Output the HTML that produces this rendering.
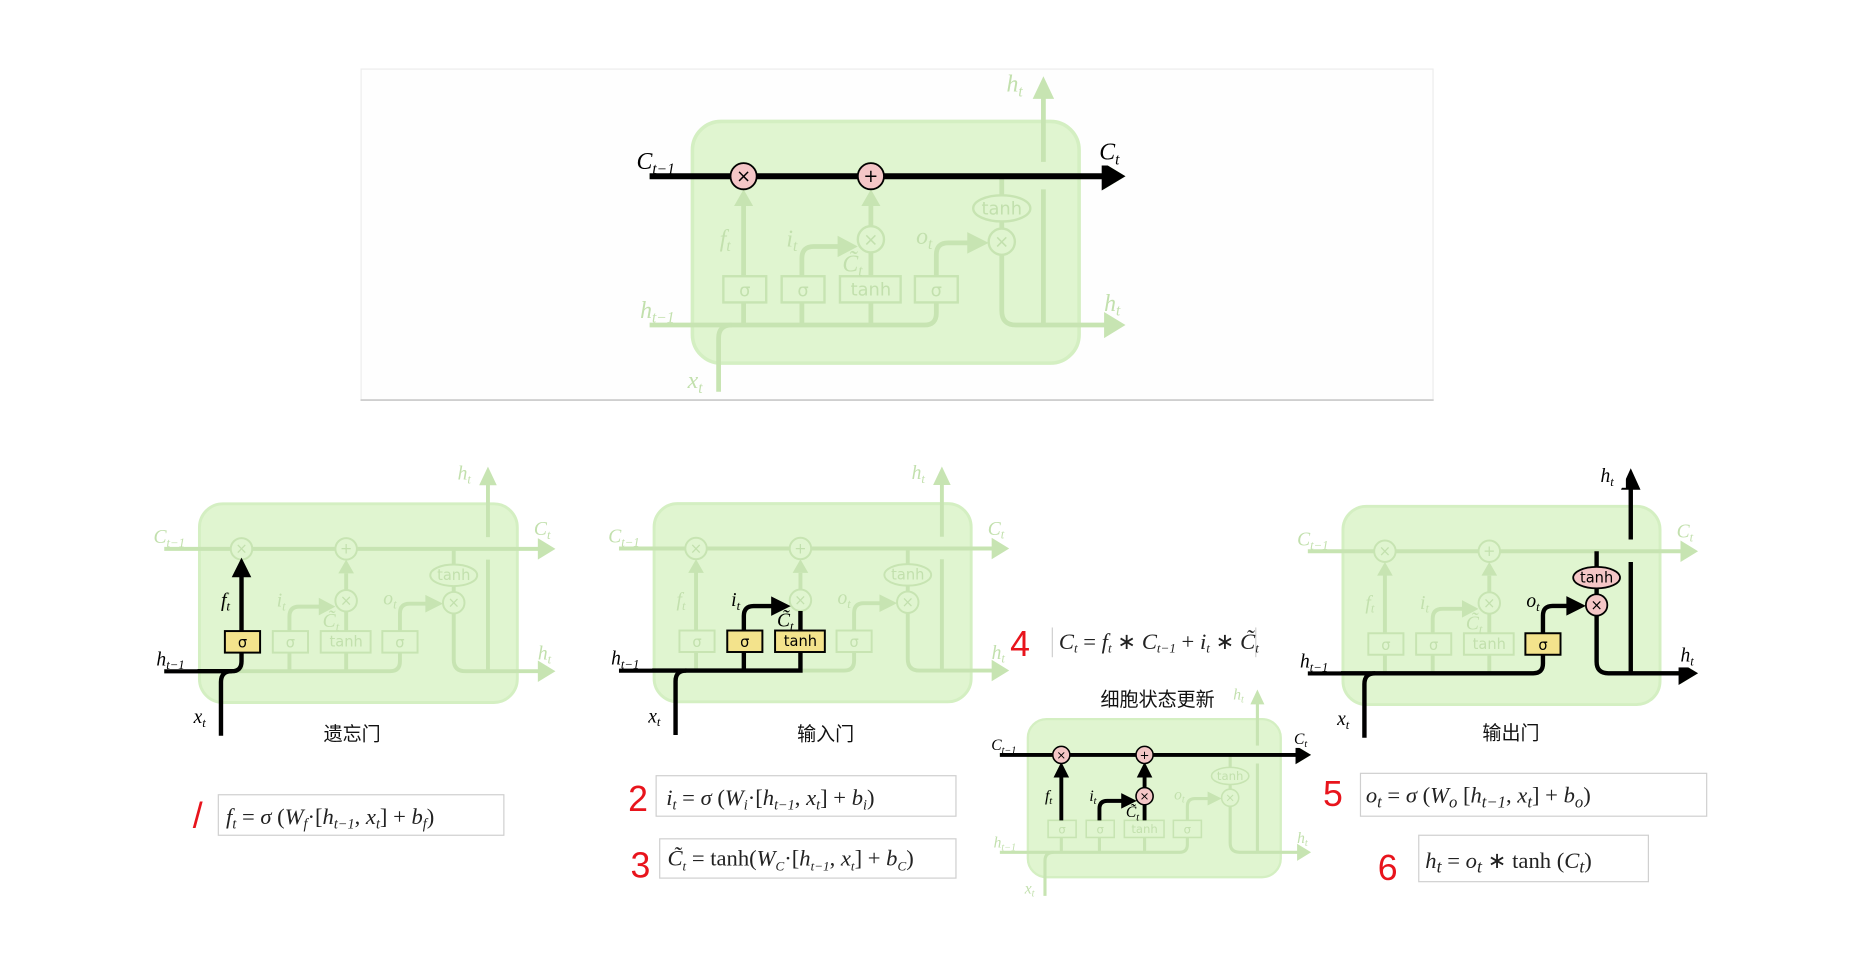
<!DOCTYPE html>
<html><head><meta charset="utf-8"><style>
html,body{margin:0;padding:0;background:#fff;width:1856px;height:968px;overflow:hidden}
svg{display:block}
.lbl{font-family:"Liberation Serif",serif;font-style:italic;font-size:20px}
.sm{font-size:13px}
.bx{font-family:"DejaVu Sans","Liberation Sans",sans-serif;font-size:15px;text-anchor:middle}
.cn{font-family:"Liberation Sans","Noto Sans CJK SC",sans-serif;font-size:16px;text-anchor:middle;fill:#111}
.eq{font-family:"Liberation Serif",serif;font-size:19px;fill:#222}
.red{font-family:"Liberation Sans",sans-serif;font-size:30px;fill:#e8141c;font-weight:300}
</style></head><body>
<svg width="1856" height="968" viewBox="2 1 1560 813" preserveAspectRatio="none" xmlns="http://www.w3.org/2000/svg">
<defs>
<g id="base" fill="none" stroke="#c7e4b2" stroke-width="4">
<rect x="584" y="103" width="325" height="203" rx="24" fill="#e0f5d0" stroke="#d4efc2" stroke-width="3"/>
<line x1="548" y1="149" x2="932" y2="149"/>
<polygon points="930,138 948,149 930,160" fill="#c7e4b2" stroke="none"/>
<line x1="627" y1="255" x2="627" y2="172"/><polygon points="619,174 627,160 635,174" fill="#c7e4b2" stroke="none"/>
<line x1="676" y1="255" x2="676" y2="274"/><line x1="734" y1="255" x2="734" y2="274"/><line x1="627" y1="255" x2="627" y2="274"/>
<path d="M548 274 H779 Q789 274 789 264 V255"/>
<path d="M606 330 V285 Q606 274 617 274"/>
<path d="M676 233 V218 Q676 208 686 208 H708"/><polygon points="706,199 723,208 706,217" fill="#c7e4b2" stroke="none"/>
<line x1="734" y1="233" x2="734" y2="213"/>
<line x1="734" y1="191" x2="734" y2="174"/><polygon points="726,174 734,160 742,174" fill="#c7e4b2" stroke="none"/>
<path d="M789 233 V215 Q789 205 799 205 H817"/><polygon points="815,196 833,205 815,214" fill="#c7e4b2" stroke="none"/>
<line x1="844" y1="149" x2="844" y2="165"/><line x1="844" y1="187" x2="844" y2="193"/>
<path d="M844 215 V262 Q844 274 856 274 H932"/><polygon points="930,263 948,274 930,285" fill="#c7e4b2" stroke="none"/>
<line x1="879" y1="274" x2="879" y2="160"/><line x1="879" y1="137" x2="879" y2="82"/><polygon points="870,84 879,65 888,84" fill="#c7e4b2" stroke="none"/>
<g stroke-width="2" fill="#e0f5d0">
<circle cx="627" cy="149" r="11"/><circle cx="734" cy="149" r="11"/><circle cx="734" cy="202" r="11"/><circle cx="844" cy="204" r="11"/>
<ellipse cx="844" cy="176" rx="24" ry="11"/>
<rect x="610" y="233" width="36" height="22"/><rect x="659" y="233" width="36" height="22"/><rect x="708" y="233" width="51" height="22"/><rect x="771" y="233" width="36" height="22"/>
</g>
<g stroke="none" fill="#c2e0ad">
<text class="bx" x="627" y="154">×</text><text class="bx" x="734" y="154">+</text><text class="bx" x="734" y="207">×</text><text class="bx" x="844" y="209">×</text>
<text class="bx" x="844" y="181">tanh</text>
<text class="bx" x="628" y="250">σ</text><text class="bx" x="677" y="250">σ</text><text class="bx" x="734" y="249">tanh</text><text class="bx" x="789" y="250">σ</text>
<text class="lbl" x="537" y="143">C<tspan class="sm" dy="4">t−1</tspan></text>
<text class="lbl" x="926" y="135">C<tspan class="sm" dy="4">t</tspan></text>
<text class="lbl" x="848" y="78">h<tspan class="sm" dy="4">t</tspan></text>
<text class="lbl" x="540" y="268">h<tspan class="sm" dy="4">t−1</tspan></text>
<text class="lbl" x="930" y="262">h<tspan class="sm" dy="4">t</tspan></text>
<text class="lbl" x="580" y="327">x<tspan class="sm" dy="4">t</tspan></text>
<text class="lbl" x="607" y="208">f<tspan class="sm" dy="4">t</tspan></text>
<text class="lbl" x="663" y="208">i<tspan class="sm" dy="4">t</tspan></text>
<text class="lbl" x="710" y="229">C̃<tspan class="sm" dy="4">t</tspan></text>
<text class="lbl" x="772" y="206">o<tspan class="sm" dy="4">t</tspan></text>
</g>
</g>
</defs>

<!-- top panel -->
<rect x="305.5" y="59" width="901" height="278" fill="#fefefe" stroke="#ececec" stroke-width="1"/>
<line x1="305" y1="337" x2="1207" y2="337" stroke="#cfcfcf" stroke-width="1.5"/>
<use href="#base"/>
<g stroke="#000" stroke-width="5" fill="none">
<line x1="548" y1="149" x2="932" y2="149"/>
</g>
<polygon points="928,137 948,149 928,161" fill="#000"/>
<g stroke="#000" stroke-width="1.5" fill="#f4c6c6"><circle cx="627" cy="149" r="11"/><circle cx="734" cy="149" r="11"/></g>
<text class="bx" x="627" y="154" fill="#000">×</text><text class="bx" x="734" y="154" fill="#000">+</text>
<rect x="530" y="120" width="48" height="26" fill="#fefefe"/><rect x="922" y="114" width="26" height="26" fill="#fefefe"/>
<text class="lbl" x="537" y="143" fill="#000">C<tspan class="sm" dy="4">t−1</tspan></text>
<text class="lbl" x="926" y="135" fill="#000">C<tspan class="sm" dy="4">t</tspan></text>

<!-- forget gate -->
<g transform="translate(-310.4,339.5) scale(0.822)">
<use href="#base"/>
<g stroke="#000" stroke-width="4.5" fill="none">
<path d="M548 274 H617 Q627 274 627 264 V255"/>
<path d="M606 340 V285 Q606 274 617 274"/>
<line x1="627" y1="233" x2="627" y2="176"/>
</g>
<polygon points="617,178 627,158 637,178" fill="#000"/>
<rect x="610" y="233" width="36" height="22" fill="#f3e38c" stroke="#000" stroke-width="2"/>
<text class="bx" x="628" y="250" fill="#000">σ</text>
<rect x="532" y="248" width="50" height="24" fill="#fff"/><rect x="575" y="310" width="26" height="24" fill="#fff"/>
<text class="lbl" x="540" y="268" fill="#000">h<tspan class="sm" dy="4">t−1</tspan></text>
<text class="lbl" x="578" y="327" fill="#000">x<tspan class="sm" dy="4">t</tspan></text>
<text class="lbl" x="606" y="208" fill="#000">f<tspan class="sm" dy="4">t</tspan></text>
</g>
<text class="cn" x="298" y="623">遗忘门</text>

<!-- input gate -->
<g transform="translate(72.9,339.5) scale(0.82)">
<use href="#base"/>
<g stroke="#000" stroke-width="4.5" fill="none">
<path d="M548 274 H734 V255"/>
<path d="M606 340 V285 Q606 274 617 274"/>
<line x1="676" y1="274" x2="676" y2="255"/>
<path d="M676 233 V218 Q676 208 686 208 H706"/>
<line x1="734" y1="233" x2="734" y2="213"/>
</g>
<polygon points="704,198 724,208 704,218" fill="#000"/>
<g stroke="#000" stroke-width="2" fill="#f3e38c"><rect x="659" y="233" width="36" height="22"/><rect x="708" y="233" width="51" height="22"/></g>
<text class="bx" x="677" y="250" fill="#000">σ</text><text class="bx" x="734" y="249" fill="#000">tanh</text>
<rect x="532" y="248" width="50" height="24" fill="#fff"/><rect x="575" y="310" width="26" height="24" fill="#fff"/>
<text class="lbl" x="540" y="268" fill="#000">h<tspan class="sm" dy="4">t−1</tspan></text>
<text class="lbl" x="578" y="327" fill="#000">x<tspan class="sm" dy="4">t</tspan></text>
<text class="lbl" x="663" y="208" fill="#000">i<tspan class="sm" dy="4">t</tspan></text>
<text class="lbl" x="710" y="229" fill="#000">C̃<tspan class="sm" dy="4">t</tspan></text>
</g>
<text class="cn" x="696" y="623">输入门</text>

<!-- output gate -->
<g transform="translate(651.9,341.8) scale(0.82)">
<use href="#base"/>
<g stroke="#000" stroke-width="4.5" fill="none">
<path d="M548 274 H779 Q789 274 789 264 V255"/>
<path d="M606 340 V285 Q606 274 617 274"/>
<path d="M789 233 V215 Q789 205 799 205 H815"/>
<line x1="844" y1="149" x2="844" y2="165"/><line x1="844" y1="187" x2="844" y2="193"/>
<path d="M844 215 V262 Q844 274 856 274 H930"/>
<line x1="879" y1="274" x2="879" y2="160"/><line x1="879" y1="137" x2="879" y2="84"/>
</g>
<polygon points="813,195 833,205 813,215" fill="#000"/>
<polygon points="928,262 948,274 928,286" fill="#000"/>
<polygon points="869,86 879,64 889,86" fill="#000"/>
<rect x="771" y="233" width="36" height="22" fill="#f3e38c" stroke="#000" stroke-width="2"/>
<text class="bx" x="789" y="250" fill="#000">σ</text>
<g stroke="#000" stroke-width="1.8" fill="#f4c6c6"><circle cx="844" cy="204" r="11"/><ellipse cx="844" cy="176" rx="24" ry="11"/></g>
<text class="bx" x="844" y="209" fill="#000">×</text><text class="bx" x="844" y="181" fill="#000">tanh</text>
<rect x="532" y="248" width="50" height="24" fill="#fff"/><rect x="575" y="310" width="26" height="24" fill="#fff"/>
<rect x="844" y="58" width="30" height="26" fill="#fff"/><rect x="927" y="242" width="26" height="26" fill="#fff"/>
<text class="lbl" x="540" y="268" fill="#000">h<tspan class="sm" dy="4">t−1</tspan></text>
<text class="lbl" x="578" y="327" fill="#000">x<tspan class="sm" dy="4">t</tspan></text>
<text class="lbl" x="772" y="206" fill="#000">o<tspan class="sm" dy="4">t</tspan></text>
<text class="lbl" x="848" y="78" fill="#000">h<tspan class="sm" dy="4">t</tspan></text>
<text class="lbl" x="930" y="262" fill="#000">h<tspan class="sm" dy="4">t</tspan></text>
</g>
<text class="cn" x="1272" y="622">输出门</text>

<!-- cell state update -->
<text class="cn" x="975" y="594">细胞状态更新</text>
<g transform="translate(484,537.6) scale(0.654)">
<use href="#base"/>
<g stroke="#000" stroke-width="5" fill="none">
<line x1="548" y1="149" x2="932" y2="149"/>
<line x1="627" y1="233" x2="627" y2="176"/>
<path d="M676 233 V218 Q676 208 686 208 H706"/>
<line x1="734" y1="233" x2="734" y2="213"/>
<line x1="734" y1="191" x2="734" y2="176"/>
</g>
<polygon points="928,137 948,149 928,161" fill="#000"/>
<polygon points="617,178 627,158 637,178" fill="#000"/>
<polygon points="724,178 734,158 744,178" fill="#000"/>
<polygon points="704,198 724,208 704,218" fill="#000"/>
<g stroke="#000" stroke-width="2" fill="#f4c6c6"><circle cx="627" cy="149" r="11"/><circle cx="734" cy="149" r="11"/><circle cx="734" cy="202" r="11"/></g>
<text class="bx" x="627" y="154" fill="#000">×</text><text class="bx" x="734" y="154" fill="#000">+</text><text class="bx" x="734" y="207" fill="#000">×</text>
<rect x="530" y="120" width="48" height="26" fill="#fff"/><rect x="922" y="114" width="26" height="26" fill="#fff"/>
<text class="lbl" x="537" y="143" fill="#000">C<tspan class="sm" dy="4">t−1</tspan></text>
<text class="lbl" x="926" y="135" fill="#000">C<tspan class="sm" dy="4">t</tspan></text>
<text class="lbl" x="606" y="208" fill="#000">f<tspan class="sm" dy="4">t</tspan></text>
<text class="lbl" x="663" y="208" fill="#000">i<tspan class="sm" dy="4">t</tspan></text>
<text class="lbl" x="710" y="229" fill="#000">C̃<tspan class="sm" dy="4">t</tspan></text>
</g>

<!-- equations -->
<g fill="#fff" stroke="#cfcfcf" stroke-width="1">
<rect x="185.5" y="668.5" width="240" height="34"/>
<rect x="553.5" y="652.5" width="252" height="34"/>
<rect x="556.5" y="705.5" width="249" height="33"/>
<rect x="1145.5" y="650.5" width="291" height="36"/>
<rect x="1194.5" y="702.5" width="193" height="39"/>
<line x1="886.5" y1="528" x2="886.5" y2="553"/><line x1="1057.5" y1="528" x2="1057.5" y2="553"/>
</g>
<text class="eq" x="192" y="693"><tspan font-style="italic">f</tspan><tspan font-size="12" dy="4" font-style="italic">t</tspan><tspan dy="-4"> = </tspan><tspan font-style="italic">σ</tspan> (<tspan font-style="italic">W</tspan><tspan font-size="12" dy="4" font-style="italic">f</tspan><tspan dy="-4">·[</tspan><tspan font-style="italic">h</tspan><tspan font-size="12" dy="4" font-style="italic">t−1</tspan><tspan dy="-4">, </tspan><tspan font-style="italic">x</tspan><tspan font-size="12" dy="4" font-style="italic">t</tspan><tspan dy="-4">]  +  </tspan><tspan font-style="italic">b</tspan><tspan font-size="12" dy="4" font-style="italic">f</tspan><tspan dy="-4">)</tspan></text>
<text class="eq" x="562" y="677"><tspan font-style="italic">i</tspan><tspan font-size="12" dy="4" font-style="italic">t</tspan><tspan dy="-4"> = </tspan><tspan font-style="italic">σ</tspan> (<tspan font-style="italic">W</tspan><tspan font-size="12" dy="4" font-style="italic">i</tspan><tspan dy="-4">·[</tspan><tspan font-style="italic">h</tspan><tspan font-size="12" dy="4" font-style="italic">t−1</tspan><tspan dy="-4">, </tspan><tspan font-style="italic">x</tspan><tspan font-size="12" dy="4" font-style="italic">t</tspan><tspan dy="-4">]  +  </tspan><tspan font-style="italic">b</tspan><tspan font-size="12" dy="4" font-style="italic">i</tspan><tspan dy="-4">)</tspan></text>
<text class="eq" x="563" y="728" font-size="17"><tspan font-style="italic">C̃</tspan><tspan font-size="11" dy="4" font-style="italic">t</tspan><tspan dy="-4"> = tanh(</tspan><tspan font-style="italic">W</tspan><tspan font-size="11" dy="4" font-style="italic">C</tspan><tspan dy="-4">·[</tspan><tspan font-style="italic">h</tspan><tspan font-size="11" dy="4" font-style="italic">t−1</tspan><tspan dy="-4">, </tspan><tspan font-style="italic">x</tspan><tspan font-size="11" dy="4" font-style="italic">t</tspan><tspan dy="-4">]  +  </tspan><tspan font-style="italic">b</tspan><tspan font-size="11" dy="4" font-style="italic">C</tspan><tspan dy="-4">)</tspan></text>
<text class="eq" x="892" y="546" font-size="16"><tspan font-style="italic">C</tspan><tspan font-size="11" dy="3" font-style="italic">t</tspan><tspan dy="-3"> = </tspan><tspan font-style="italic">f</tspan><tspan font-size="11" dy="3" font-style="italic">t</tspan><tspan dy="-3"> ∗ </tspan><tspan font-style="italic">C</tspan><tspan font-size="11" dy="3" font-style="italic">t−1</tspan><tspan dy="-3"> + </tspan><tspan font-style="italic">i</tspan><tspan font-size="11" dy="3" font-style="italic">t</tspan><tspan dy="-3"> ∗ </tspan><tspan font-style="italic">C̃</tspan><tspan font-size="11" dy="3" font-style="italic">t</tspan></text>
<text class="eq" x="1150" y="675" font-size="22"><tspan font-style="italic">o</tspan><tspan font-size="14" dy="4" font-style="italic">t</tspan><tspan dy="-4"> = </tspan><tspan font-style="italic">σ</tspan> (<tspan font-style="italic">W</tspan><tspan font-size="14" dy="4" font-style="italic">o</tspan><tspan dy="-4">  [</tspan><tspan font-style="italic">h</tspan><tspan font-size="14" dy="4" font-style="italic">t−1</tspan><tspan dy="-4">, </tspan><tspan font-style="italic">x</tspan><tspan font-size="14" dy="4" font-style="italic">t</tspan><tspan dy="-4">]  +  </tspan><tspan font-style="italic">b</tspan><tspan font-size="14" dy="4" font-style="italic">o</tspan><tspan dy="-4">)</tspan></text>
<text class="eq" x="1200" y="730" font-size="24"><tspan font-style="italic">h</tspan><tspan font-size="15" dy="4" font-style="italic">t</tspan><tspan dy="-4"> = </tspan><tspan font-style="italic">o</tspan><tspan font-size="15" dy="4" font-style="italic">t</tspan><tspan dy="-4"> ∗ tanh (</tspan><tspan font-style="italic">C</tspan><tspan font-size="15" dy="4" font-style="italic">t</tspan><tspan dy="-4">)</tspan></text>
<text class="red" x="164" y="696">/</text>
<text class="red" x="530" y="682">2</text>
<text class="red" x="532" y="738">3</text>
<text class="red" x="851" y="552">4</text>
<text class="red" x="1114" y="678">5</text>
<text class="red" x="1160" y="740">6</text>
</svg>
</body></html>
